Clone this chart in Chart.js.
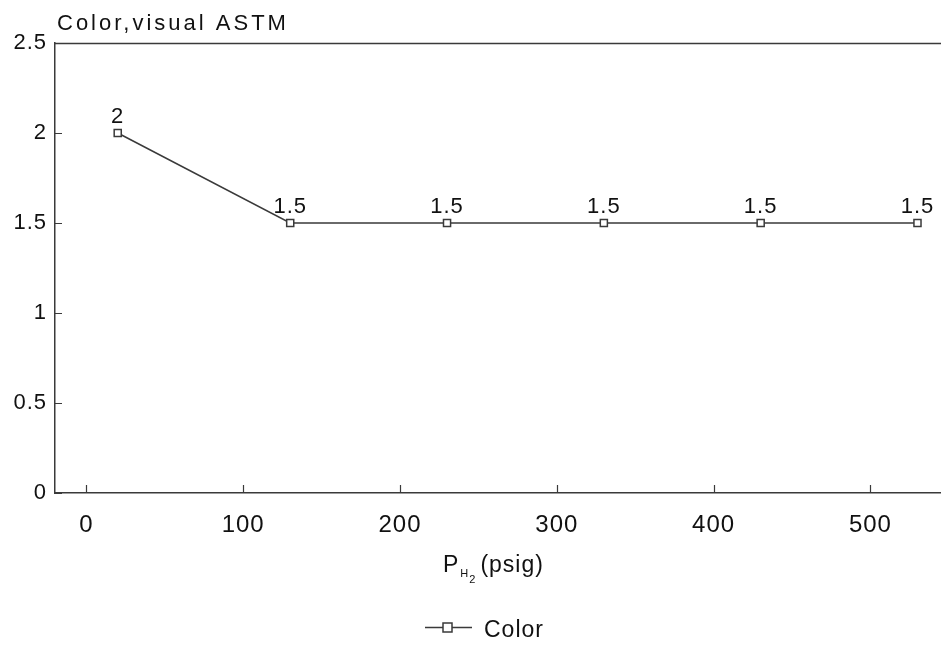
<!DOCTYPE html>
<html>
<head>
<meta charset="utf-8">
<script src="https://cdn.jsdelivr.net/npm/chart.js@4.4.1/dist/chart.umd.min.js"></script>
<style>
  html, body { margin: 0; padding: 0; background: #fff; }
  #wrap { width: 941px; height: 646px; position: relative; }
</style>
</head>
<body>
<div id="wrap"><canvas id="c" width="941" height="646"></canvas></div>
<script>
// Hydrogen pressure (psig) and visual ASTM colour readings
const pressures = [20, 130, 230, 330, 430, 530];
const colorValues = [2, 1.5, 1.5, 1.5, 1.5, 1.5];
const xTickValues = [0, 100, 200, 300, 400, 500];
const yTickValues = [0, 0.5, 1, 1.5, 2, 2.5];
const yTitle = 'Color,visual ASTM';
const seriesName = 'Color';

const FONT = '"Liberation Sans", Arial, Helvetica, sans-serif';
const INK = '#111';
const LINE = '#3a3a3a';

// Inward tick marks, top frame line, point labels, axis titles and legend
const decorations = {
  id: 'decorations',
  beforeDraw(chart) {
    chart.ctx.letterSpacing = '1px';
  },
  afterDraw(chart) {
    const ctx = chart.ctx;
    const area = chart.chartArea;
    const xs = chart.scales.x, ys = chart.scales.y;
    ctx.save();
    ctx.strokeStyle = LINE;
    ctx.lineWidth = 1.5;
    // top frame line
    ctx.beginPath();
    ctx.moveTo(area.left, area.top + 0.5);
    ctx.lineTo(area.right, area.top + 0.5);
    ctx.stroke();
    // inward ticks
    ctx.lineWidth = 1.2;
    ctx.beginPath();
    xTickValues.forEach(v => {
      const px = Math.round(xs.getPixelForValue(v)) + 0.5;
      ctx.moveTo(px, area.bottom);
      ctx.lineTo(px, area.bottom - 8);
    });
    yTickValues.forEach(v => {
      const py = Math.round(ys.getPixelForValue(v)) + 0.5;
      ctx.moveTo(area.left, py);
      ctx.lineTo(area.left + 7, py);
    });
    ctx.stroke();

    // value labels above points
    ctx.fillStyle = INK;
    ctx.font = '22px ' + FONT;
    ctx.textAlign = 'center';
    ctx.textBaseline = 'alphabetic';
    const meta = chart.getDatasetMeta(0);
    meta.data.forEach((pt, i) => {
      ctx.fillText(String(colorValues[i]), pt.x, pt.y - 10);
    });

    // y-axis title at top left
    ctx.textAlign = 'left';
    ctx.font = '22px ' + FONT;
    ctx.letterSpacing = '3px';
    ctx.fillText(yTitle, area.left + 2, 30);

    // x-axis title: P with subscript H2, then (psig)
    ctx.letterSpacing = '1px';
    const cx = (area.left + area.right) / 2;
    let x0 = cx - 55;
    const base = 572;
    ctx.font = '23px ' + FONT;
    ctx.fillText('P', x0, base);
    x0 += ctx.measureText('P').width + 1;
    ctx.font = '11px ' + FONT;
    ctx.fillText('H', x0, base + 5);
    x0 += ctx.measureText('H').width;
    ctx.fillText('2', x0, base + 11);
    x0 += ctx.measureText('2').width + 4;
    ctx.font = '23px ' + FONT;
    ctx.fillText('(psig)', x0, base);

    // legend: line with square marker, then the series name
    const ly = 627.5;
    ctx.strokeStyle = LINE;
    ctx.lineWidth = 1.5;
    ctx.beginPath();
    ctx.moveTo(425, ly);
    ctx.lineTo(472, ly);
    ctx.stroke();
    ctx.fillStyle = '#fff';
    ctx.fillRect(443, ly - 4.5, 9, 9);
    ctx.strokeRect(443, ly - 4.5, 9, 9);
    ctx.fillStyle = INK;
    ctx.font = '23px ' + FONT;
    ctx.fillText(seriesName, 484, 637);
    ctx.restore();
  }
};

new Chart(document.getElementById('c'), {
  type: 'line',
  data: {
    datasets: [{
      label: seriesName,
      data: pressures.map((p, i) => ({ x: p, y: colorValues[i] })),
      borderColor: LINE,
      borderWidth: 1.5,
      pointStyle: 'rect',
      pointRadius: 5,
      pointBorderWidth: 1.5,
      pointBackgroundColor: '#fff',
      pointBorderColor: LINE,
      tension: 0,
      fill: false
    }]
  },
  options: {
    responsive: false,
    animation: false,
    layout: { autoPadding: false, padding: { top: 43, right: 0, left: 0, bottom: 0 } },
    plugins: {
      legend: { display: false },
      tooltip: { enabled: false },
      title: { display: false }
    },
    scales: {
      x: {
        type: 'linear',
        min: -20,
        max: 545,
        afterBuildTicks(scale) { scale.ticks = xTickValues.map(v => ({ value: v })); },
        afterFit(scale) {
          scale.height = 646 - 493;
          scale.paddingLeft = 0;
          scale.paddingRight = 0;
        },
        grid: { display: false, drawTicks: false },
        border: { display: true, color: LINE, width: 1.5 },
        ticks: {
          color: INK,
          font: { family: FONT, size: 24 },
          padding: 18,
          maxRotation: 0,
          autoSkip: false,
          callback: v => String(v)
        }
      },
      y: {
        type: 'linear',
        min: 0,
        max: 2.5,
        afterBuildTicks(scale) { scale.ticks = yTickValues.map(v => ({ value: v })); },
        afterFit(scale) {
          scale.width = 55;
          scale.paddingTop = 0;
          scale.paddingBottom = 0;
        },
        grid: { display: false, drawTicks: false },
        border: { display: true, color: LINE, width: 1.5 },
        ticks: {
          color: INK,
          font: { family: FONT, size: 22 },
          padding: 8,
          autoSkip: false,
          callback: v => String(v)
        }
      }
    }
  },
  plugins: [decorations]
});
</script>
</body>
</html>
